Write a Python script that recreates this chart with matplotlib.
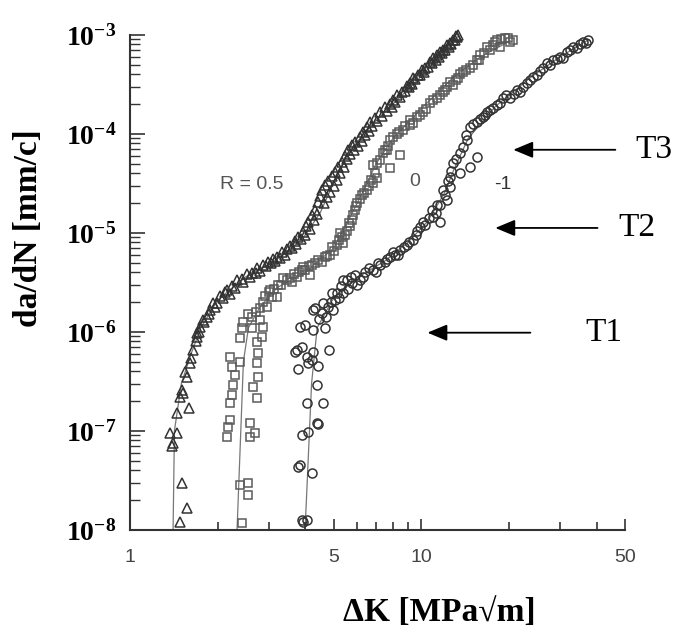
import numpy as np
import matplotlib
matplotlib.use("Agg")
import matplotlib.pyplot as plt
from matplotlib.ticker import FixedLocator, NullFormatter

# --- data: dK [MPa sqrt(m)], da/dN [mm/cycle] ---
# R = 0.5 (triangles)
dk_t = [1.485, 1.570, 1.509, 1.394, 1.372, 1.451, 1.405, 1.451, 1.595, 1.485,
        1.509, 1.521, 1.570, 1.545, 1.608, 1.646, 1.700, 1.700, 1.739, 1.782,
        1.839, 1.884, 1.929, 1.991, 2.04, 2.121, 2.154, 2.241, 2.332, 2.426,
        2.524, 2.626, 2.732, 2.864, 2.980, 3.100, 3.200, 3.330, 3.464, 3.547,
        3.690, 3.779, 3.930, 4.025, 4.090, 4.221, 4.323, 4.426, 4.497, 4.569,
        4.679, 4.79, 4.946, 5.064, 5.185, 5.352, 5.481, 5.613, 5.793, 5.932,
        6.170, 6.319, 6.522, 6.678, 6.948, 7.228, 7.520, 7.825, 8.013, 8.270,
        8.604, 8.95, 9.166, 9.386, 9.766, 10.08, 10.32, 10.74, 11.00, 11.35,
        11.62, 11.90, 12.29, 12.58, 12.88, 13.30, 13.40,
        1.62, 1.68, 1.72, 1.80, 1.86, 1.95, 2.08, 2.2, 2.3, 2.45,
        2.58, 2.7, 2.8, 2.92, 3.05, 3.15, 3.28, 3.4, 3.6, 3.72,
        3.85, 3.98, 4.15, 4.28, 4.4, 4.62, 4.74, 4.86, 5.0, 5.12,
        5.27, 5.42, 5.55, 5.7, 5.87, 6.05, 6.25, 6.42, 6.6, 6.8,
        7.05, 7.35, 7.65, 7.92, 8.15, 8.45, 8.8, 9.05, 9.28, 9.55,
        9.9, 10.2, 10.55, 10.85, 11.2, 11.5, 11.75, 12.1, 12.45, 12.7,
        13.1, 13.2]
dadn_t = [1.2e-8, 1.67e-8, 2.99e-8, 7.05e-8, 9.55e-8, 9.55e-8, 7.57e-8, 1.52e-7, 1.71e-7, 2.2e-7,
          2.6e-7, 2.42e-7, 3.51e-7, 3.95e-7, 4.86e-7, 6.58e-7, 8.9e-7, 9.8e-7, 1.12e-6, 1.32e-6,
          1.42e-6, 1.67e-6, 1.96e-6, 1.96e-6, 2.31e-6, 2.54e-6, 2.66e-6, 2.92e-6, 3.35e-6, 3.43e-6,
          3.85e-6, 3.95e-6, 4.43e-6, 4.75e-6, 5.09e-6, 5.46e-6, 5.73e-6, 6.43e-6, 6.89e-6, 7.4e-6,
          8.3e-6, 9.1e-6, 1.02e-5, 1.18e-5, 1.29e-5, 1.52e-5, 1.71e-5, 2.06e-5, 2.37e-5, 2.72e-5,
          3.05e-5, 3.35e-5, 3.77e-5, 4.13e-5, 4.64e-5, 5.21e-5, 6.0e-5, 6.89e-5, 7.74e-5, 8.31e-5,
          9.33e-5, 1.05e-4, 1.18e-4, 1.32e-4, 1.45e-4, 1.67e-4, 1.87e-4, 2.01e-4, 2.2e-4, 2.48e-4,
          2.65e-4, 3.05e-4, 3.27e-4, 3.68e-4, 3.95e-4, 4.43e-4, 4.64e-4, 5.34e-4, 5.86e-4, 6.28e-4,
          6.73e-4, 7.05e-4, 7.92e-4, 8.3e-4, 8.9e-4, 9.55e-4, 1e-3,
          5.5e-7, 8e-7, 1.0e-6, 1.25e-6, 1.5e-6, 1.8e-6, 2.2e-6, 2.4e-6, 2.8e-6, 3.2e-6,
          3.6e-6, 3.9e-6, 4.1e-6, 4.6e-6, 4.9e-6, 5.2e-6, 5.6e-6, 6.0e-6, 7.0e-6, 7.8e-6,
          8.6e-6, 9.5e-6, 1.1e-5, 1.35e-5, 1.55e-5, 2.0e-5, 2.3e-5, 2.6e-5, 3.0e-5, 3.4e-5,
          4.0e-5, 4.6e-5, 5.6e-5, 6.2e-5, 6.9e-5, 7.6e-5, 8.5e-5, 9.7e-5, 1.07e-4, 1.2e-4,
          1.35e-4, 1.5e-4, 1.7e-4, 1.85e-4, 2.1e-4, 2.35e-4, 2.7e-4, 2.95e-4, 3.2e-4, 3.55e-4,
          3.9e-4, 4.2e-4, 4.7e-4, 5.2e-4, 5.6e-4, 6.0e-4, 6.5e-4, 7.0e-4, 7.6e-4, 8.1e-4,
          8.8e-4, 9.8e-4]

# R = 0 (squares)
dk_s = [2.426, 2.544, 2.388, 2.544, 2.154, 2.172, 2.206, 2.585, 2.69, 2.585,
        2.206, 2.241, 2.732, 2.647, 2.259, 2.296, 2.241, 2.388, 2.206, 2.754,
        2.732, 2.754, 2.732, 2.842, 2.388, 2.426, 2.626, 2.864, 2.626, 2.797,
        2.956, 2.797, 3.076, 3.200, 3.028, 3.226, 3.356, 3.547, 3.749, 3.900,
        4.156, 3.930, 4.221, 4.426, 4.679, 4.868, 4.946, 5.144, 5.395, 5.481,
        5.268, 5.702, 5.793, 5.932, 6.027, 6.27, 6.522, 6.840, 7.06, 6.840,
        7.06, 7.825, 7.402, 7.641, 8.469, 7.825, 8.270, 8.673, 9.166, 9.166,
        9.689, 10.16, 10.74, 11.35, 11.90, 12.29, 12.88, 13.40, 13.94, 14.74,
        15.57, 15.95, 16.86, 17.68, 18.25, 18.68, 19.44, 20.22, 20.72,
        2.45, 2.55, 2.7, 2.85, 2.9, 3.0, 3.13, 3.3, 3.45, 3.6,
        3.65, 3.8, 4.0, 4.1, 4.3, 4.55, 4.75, 5.0, 5.2, 5.35,
        5.55, 5.65, 5.85, 5.95, 6.15, 6.35, 6.6, 6.7, 6.95, 7.2,
        7.5, 7.7, 8.0, 8.4, 8.8, 9.4, 9.9, 10.4, 11.0, 11.6,
        12.1, 12.6, 13.2, 13.6, 14.3, 15.1, 15.8, 16.4, 17.2, 17.9,
        18.8, 19.8]
dadn_s = [1.18e-8, 2.26e-8, 2.85e-8, 2.99e-8, 8.7e-8, 1.1e-7, 1.29e-7, 8.7e-8, 9.55e-8, 1.2e-7,
          1.92e-7, 2.31e-7, 2.15e-7, 2.78e-7, 2.92e-7, 3.68e-7, 4.43e-7, 4.98e-7, 5.59e-7, 6.14e-7,
          4.86e-7, 3.51e-7, 7.92e-7, 8.9e-7, 8.7e-7, 1.1e-6, 1.1e-6, 1.12e-6, 1.42e-6, 1.32e-6,
          1.79e-6, 1.75e-6, 2.26e-6, 2.26e-6, 2.66e-6, 2.99e-6, 3.52e-6, 3.52e-6, 3.6e-6, 4.23e-6,
          3.77e-6, 4.54e-6, 4.75e-6, 5.34e-6, 5.73e-6, 6.0e-6, 7.22e-6, 7.57e-6, 7.93e-6, 9.54e-6,
          1.0e-5, 1.18e-5, 1.35e-5, 1.71e-5, 2.0e-5, 2.42e-5, 2.72e-5, 3.2e-5, 3.6e-5, 4.86e-5,
          5.09e-5, 4.53e-5, 6.43e-5, 6.89e-5, 6.14e-5, 8.7e-5, 1e-4, 1.1e-4, 1.23e-4, 1.38e-4,
          1.49e-4, 1.67e-4, 2.06e-4, 2.31e-4, 2.65e-4, 2.98e-4, 3.13e-4, 3.68e-4, 4.23e-4, 4.64e-4,
          5.59e-4, 6.28e-4, 7.56e-4, 7.92e-4, 8.9e-4, 7.56e-4, 9.33e-4, 8.5e-4, 8.9e-4,
          1.25e-6, 1.5e-6, 1.6e-6, 2.0e-6, 2.3e-6, 2.5e-6, 2.7e-6, 3.0e-6, 3.3e-6, 3.2e-6,
          3.8e-6, 4.0e-6, 4.2e-6, 4.6e-6, 4.9e-6, 5.1e-6, 5.9e-6, 6.6e-6, 8.5e-6, 9.0e-6,
          1.05e-5, 1.25e-5, 1.5e-5, 1.85e-5, 2.2e-5, 2.5e-5, 3.0e-5, 3.4e-5, 4.0e-5, 5.5e-5,
          6.8e-5, 7.5e-5, 9.2e-5, 1.05e-4, 1.2e-4, 1.3e-4, 1.55e-4, 1.8e-4, 2.2e-4, 2.45e-4,
          2.8e-4, 3.3e-4, 3.5e-4, 4.0e-4, 4.4e-4, 5.0e-4, 5.6e-4, 6.5e-4, 7.0e-4, 8.5e-4,
          9.0e-4, 9.2e-4]

# R = -1 (circles)
dk_c = [3.900, 4.058, 3.930, 3.839, 3.779, 4.221, 3.900, 4.090, 4.426, 4.391,
        4.058, 4.605, 4.391, 3.779, 4.426, 4.090, 3.690, 3.900, 4.255, 4.221,
        4.058, 4.829, 3.749, 3.994, 3.839, 4.255, 4.679, 4.255, 4.569, 4.605,
        4.985, 5.064, 4.323, 4.946, 5.144, 5.395, 5.395, 5.569, 5.793, 5.932,
        6.170, 6.420, 6.840, 7.228, 7.825, 8.140, 8.469, 8.95, 9.386, 9.922,
        10.32, 11.62, 11.00, 10.91, 11.35, 12.29, 11.90, 12.58, 12.58, 12.88,
        13.61, 14.74, 15.57, 13.61, 14.39, 14.74, 15.57, 16.33, 16.86, 17.68,
        18.68, 19.13, 20.22, 21.38, 21.89, 23.14, 24.26, 25.04, 26.26, 27.10,
        28.42, 30.04, 30.76, 31.75, 33.30, 34.37, 36.04, 37.49,
        4.45, 4.7, 4.8, 4.9, 5.2, 5.3, 5.6, 5.75, 6.0, 6.3,
        6.6, 7.0, 7.1, 7.5, 7.6, 8.0, 8.3, 8.7, 9.1, 9.6,
        9.7, 10.1, 10.6, 11.2, 11.6, 12.1, 12.4, 12.7, 13.2, 13.9,
        14.2, 15.0, 15.9, 16.6, 17.2, 18.2, 19.6, 20.8, 22.4, 23.7,
        25.6, 27.7, 29.3, 32.5, 35.2, 36.8]
dadn_c = [1.26e-8, 1.26e-8, 1.2e-8, 4.54e-8, 4.33e-8, 3.77e-8, 9.12e-8, 9.77e-8, 1.18e-7, 1.2e-7,
          1.92e-7, 1.92e-7, 2.92e-7, 4.23e-7, 4.54e-7, 4.86e-7, 6.28e-7, 7.05e-7, 6.28e-7, 5.21e-7,
          5.59e-7, 6.58e-7, 6.58e-7, 1.18e-6, 1.12e-6, 1.05e-6, 1.1e-6, 1.67e-6, 1.55e-6, 1.96e-6,
          1.67e-6, 2.1e-6, 1.75e-6, 2.48e-6, 2.48e-6, 2.48e-6, 3.35e-6, 3.35e-6, 3.13e-6, 3.77e-6,
          3.35e-6, 4.04e-6, 4.23e-6, 4.75e-6, 5.73e-6, 6.0e-6, 6.74e-6, 7.57e-6, 8.5e-6, 1.15e-5,
          1.2e-5, 1.29e-5, 1.45e-5, 1.71e-5, 1.92e-5, 2.15e-5, 2.72e-5, 2.92e-5, 3.68e-5, 5.09e-5,
          4.04e-5, 4.64e-5, 5.86e-5, 6.43e-5, 8.7e-5, 1.18e-4, 1.32e-4, 1.49e-4, 1.67e-4, 1.83e-4,
          2.06e-4, 2.31e-4, 2.31e-4, 2.78e-4, 2.65e-4, 3.27e-4, 3.77e-4, 3.95e-4, 4.64e-4, 5.22e-4,
          5.59e-4, 6.0e-4, 5.86e-4, 6.73e-4, 7.56e-4, 7.39e-4, 8.5e-4, 8.9e-4,
          1.35e-6, 1.4e-6, 1.8e-6, 2.0e-6, 2.2e-6, 2.9e-6, 2.7e-6, 3.6e-6, 3.0e-6, 3.6e-6,
          4.4e-6, 4.0e-6, 4.9e-6, 5.1e-6, 5.4e-6, 6.4e-6, 6.0e-6, 7.2e-6, 8.0e-6, 9.5e-6,
          1.05e-5, 1.3e-5, 1.4e-5, 1.6e-5, 1.9e-5, 2.4e-5, 3.3e-5, 4.2e-5, 5.6e-5, 7.4e-5,
          9.8e-5, 1.25e-4, 1.4e-4, 1.55e-4, 1.75e-4, 1.95e-4, 2.45e-4, 2.55e-4, 3.0e-4, 3.5e-4,
          4.3e-4, 5.0e-4, 5.7e-4, 7.0e-4, 8.0e-4, 8.2e-4]

# fitted trend lines
fit_dk_t = [1.405, 1.42, 1.50, 1.62, 1.75, 2.0, 2.5, 3.0, 3.5, 4.0, 4.5, 5.0, 5.5, 6.5, 8.0, 10.0, 13.3]
fit_da_t = [1e-8, 1e-7, 3e-7, 6e-7, 1.1e-6, 2.1e-6, 3.6e-6, 4.8e-6, 6.5e-6, 9.5e-6, 1.6e-5, 3.2e-5,
            5.8e-5, 1.1e-4, 2.0e-4, 3.8e-4, 9.5e-4]
fit_dk_s = [2.33, 2.40, 2.45, 2.55, 2.8, 3.2, 4.0, 5.0, 5.6, 6.3, 7.0, 8.0, 10.0, 13.0, 16.0, 20.2]
fit_da_s = [1e-8, 1e-7, 5e-7, 1.1e-6, 1.8e-6, 2.8e-6, 4.0e-6, 7e-6, 1.3e-5, 2.6e-5, 5e-5, 9e-5,
            1.8e-4, 3.8e-4, 6e-4, 8.7e-4]
fit_dk_c = [3.99, 4.2, 4.39, 5.0, 6.0, 7.5, 9.0, 10.5, 12.0, 13.0, 14.5, 18.0, 24.0, 30.0, 37.5]
fit_da_c = [1e-8, 3e-7, 1.1e-6, 2.2e-6, 3.5e-6, 5.2e-6, 8e-6, 1.3e-5, 2.5e-5, 4.5e-5, 9e-5, 1.9e-4,
            3.8e-4, 6e-4, 8.9e-4]

x_ticks = [1, 5, 10, 50]
y_ticks = [1e-8, 1e-7, 1e-6, 1e-5, 1e-4, 1e-3]

plt.rcParams['mathtext.fontset'] = 'custom'
plt.rcParams['mathtext.rm'] = 'Liberation Serif'
plt.rcParams['mathtext.bf'] = 'Liberation Serif:bold'

fig = plt.figure(figsize=(6.74, 6.33), dpi=100)
ax = fig.add_axes([0.193, 0.163, 0.734, 0.782])

ax.plot(fit_dk_t, fit_da_t, color='#777777', lw=0.9, zorder=1)
ax.plot(fit_dk_s, fit_da_s, color='#777777', lw=0.9, zorder=1)
ax.plot(fit_dk_c, fit_da_c, color='#777777', lw=0.9, zorder=1)

ax.plot(dk_t, dadn_t, ls='none', marker='^', ms=6.5, mfc='none', mec='#333333', mew=1.1, clip_on=False, zorder=3)
ax.plot(dk_s, dadn_s, ls='none', marker='s', ms=6, mfc='none', mec='#5a5a5a', mew=1.1, clip_on=False, zorder=3)
ax.plot(dk_c, dadn_c, ls='none', marker='o', ms=6.5, mfc='none', mec='#333333', mew=1.1, clip_on=False, zorder=3)

ax.set_xscale('log')
ax.set_yscale('log')
ax.set_xlim(1, 50)
ax.set_ylim(1e-8, 1e-3)

for s in ['top', 'right']:
    ax.spines[s].set_visible(False)
for s in ['left', 'bottom']:
    ax.spines[s].set_color('#333333')
    ax.spines[s].set_linewidth(1.5)

ax.xaxis.set_major_locator(FixedLocator(x_ticks))
ax.xaxis.set_minor_locator(FixedLocator([2, 3, 4, 6, 7, 8, 9, 20, 30, 40]))
ax.xaxis.set_minor_formatter(NullFormatter())
ax.set_xticklabels([str(v) for v in x_ticks], fontfamily='Liberation Sans', fontsize=14, color='#444444')
ax.yaxis.set_major_locator(FixedLocator(y_ticks))
ax.set_yticklabels([r'$\mathbf{10^{%d}}$' % int(np.log10(v)) for v in y_ticks], fontsize=20)

ax.tick_params(axis='x', which='major', direction='in', length=8, width=1.2, pad=14, colors='#333333')
ax.tick_params(axis='x', which='minor', direction='in', length=6, width=1.2, colors='#333333')
ax.tick_params(axis='y', which='major', direction='in', length=11, width=1.2, pad=10, colors='#333333')
ax.tick_params(axis='y', which='minor', direction='in', length=7, width=1.0, colors='#333333')
for lab in ax.get_yticklabels():
    lab.set_color('black')
for lab in ax.get_xticklabels():
    lab.set_color('#444444')

ax.set_xlabel('ΔK [MPa√m]', fontfamily='Liberation Serif', fontweight='bold', fontsize=24)
ax.xaxis.set_label_coords(0.626, -0.135)
ax.set_ylabel('da/dN [mm/c]', fontfamily='Liberation Serif', fontweight='bold', fontsize=24)
ax.yaxis.set_label_coords(-0.174, 0.61)

# R labels
ax.text(2.62, 3.1e-5, 'R = 0.5', fontfamily='Liberation Sans', fontsize=14, color='#555555', ha='center', va='center')
ax.text(9.5, 3.3e-5, '0', fontfamily='Liberation Sans', fontsize=14, color='#555555', ha='center', va='center')
ax.text(19.1, 3.05e-5, '-1', fontfamily='Liberation Sans', fontsize=14, color='#333333', ha='center', va='center')

# transition arrows
arrows = [('T3', 20.7, 46.4, 54.4, 6.9e-5),
          ('T2', 17.96, 40.3, 47.5, 1.12e-5),
          ('T1', 10.5, 23.7, 36.6, 9.8e-7)]
for name, tip, tail, tx, yy in arrows:
    ax.annotate('', xy=(tip, yy), xytext=(tail, yy), annotation_clip=False,
                arrowprops=dict(arrowstyle='-|>,head_length=1.2,head_width=0.5', color='black', lw=1.3,
                                shrinkA=0, shrinkB=0))
    ax.text(tx, yy, name, fontfamily='Liberation Serif', fontsize=24, ha='left', va='center', clip_on=False)

fig.savefig('out.png', dpi=100)
